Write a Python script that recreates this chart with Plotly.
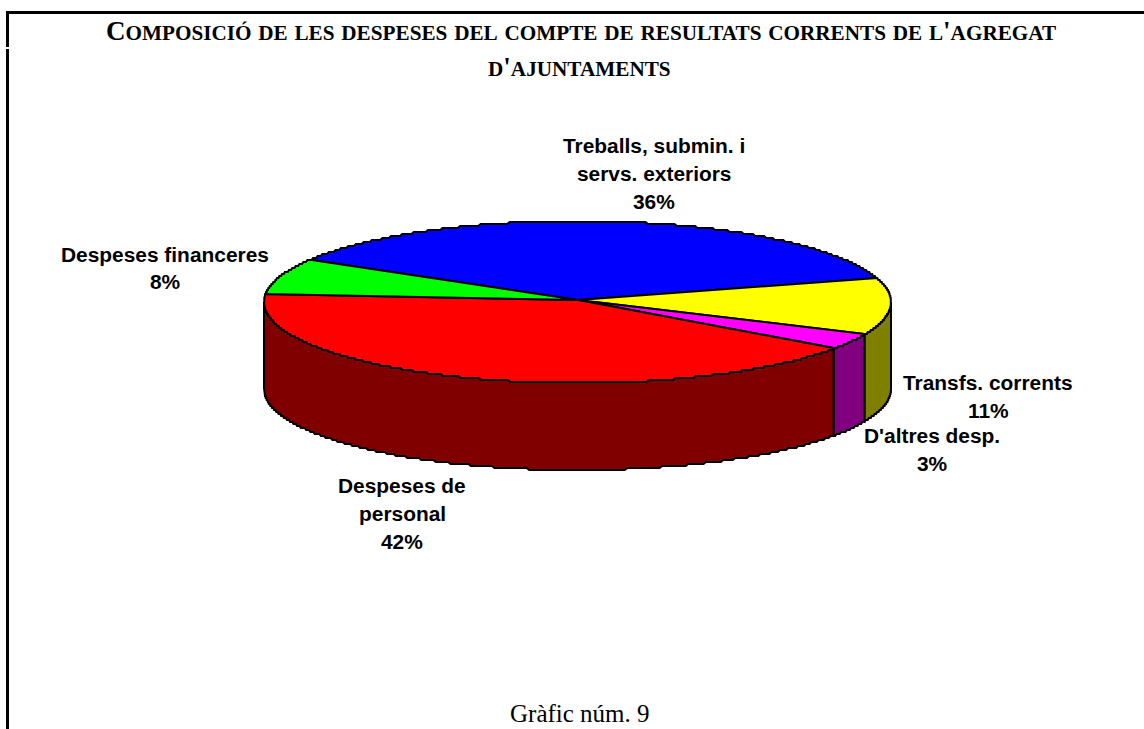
import math
import plotly.graph_objects as go

# ---- data ----
categories = ["Treballs, submin. i<br>servs. exteriors", "Transfs. corrents", "D'altres desp.",
              "Despeses de<br>personal", "Despeses financeres"]
values = [36.4, 11.3, 3.2, 41.6, 7.5]
top_colors = ["#0000ff", "#ffff00", "#ff00ff", "#ff0000", "#00ff00"]
side_colors = ["#000080", "#808000", "#800080", "#800000", "#008000"]
label_centers_x = [654, 988, 932, 402, 165]
label_first_y = [145.5, 382.5, 435.5, 485.5, 254]
title_lines = ["Composició de les despeses del compte de resultats corrents de l'agregat",
               "d'ajuntaments"]
caption = "Gràfic núm. 9"

# ---- pie projection (page pixels) ----
CX, CY, RX, RY = 577.5, 302.0, 313.5, 81.0
APEX = (578.0, 300.0)
DEPTH = 87.0
START_DEG = 148.0
W, H = 1144, 729


def rim(deg, drop=0.0):
    t = math.radians(deg)
    return CX + RX * math.cos(t), round((CY - RY * math.sin(t) + drop) / 2) * 2


def arc(a, b, drop=0.0):
    n = max(2, int(abs(a - b) * 2))
    return [rim(a + (b - a) * i / n, drop) for i in range(n + 1)]


fig = go.Figure()
angles = []
cur = START_DEG
for v in values:
    nxt = cur - v / sum(values) * 360
    angles.append((cur, nxt))
    cur = nxt

# side walls: only the front half of the cylinder is seen
for (a, b), col in zip(angles, side_colors):
    hi, lo = min(a, 0.0), max(b, -180.0)
    if hi <= lo:
        continue
    pts = arc(hi, lo) + arc(lo, hi, DEPTH)
    pts.append(pts[0])
    fig.add_trace(go.Scatter(x=[p[0] for p in pts], y=[p[1] for p in pts], mode="lines",
                             fill="toself", fillcolor=col, line=dict(color="black", width=2),
                             hoverinfo="skip", showlegend=False))

# top wedges
for (a, b), col, name in zip(angles, top_colors, categories):
    pts = [APEX] + arc(a, b) + [APEX]
    fig.add_trace(go.Scatter(x=[p[0] for p in pts], y=[p[1] for p in pts], mode="lines",
                             fill="toself", fillcolor=col, line=dict(color="black", width=2),
                             name=name.replace("<br>", " "), hoverinfo="name", showlegend=False))

annotations = []


def note(x, y, text, size, family, bold=False):
    annotations.append(dict(x=x, y=y, xref="x", yref="y", text=f"<b>{text}</b>" if bold else text,
                            showarrow=False, xanchor="center", yanchor="middle",
                            font=dict(size=size, family=family, color="black")))


SERIF = "Liberation Serif"
SANS = "Liberation Sans"
LINE = 27.8
for name, v, x, y in zip(categories, values, label_centers_x, label_first_y):
    lines = name.split("<br>") + [f"{round(v)}%"]
    for i, ln in enumerate(lines):
        note(x, y + i * LINE, ln, 20.9, SANS, bold=True)


def small_caps(s, big=27, small=21.2):
    out = []
    for ch in s:
        if ch.islower():
            out.append(f'<span style="font-size:{small}px">{ch.upper()}</span>')
        else:
            out.append(f'<span style="font-size:{big}px">{ch}</span>')
    return "".join(out)


note(581, 31, small_caps(title_lines[0]), 21.2, SERIF, bold=True)
note(579, 67, small_caps(title_lines[1]), 21.2, SERIF, bold=True)
note(580, 713, caption, 25, SERIF)

black = dict(color="black", width=0)
shapes = [
    dict(type="rect", xref="x", yref="y", x0=6, x1=W, y0=11, y1=14, fillcolor="black", line=black),
    dict(type="rect", xref="x", yref="y", x0=6, x1=9, y0=11, y1=47, fillcolor="black", line=black),
    dict(type="rect", xref="x", yref="y", x0=6, x1=9, y0=49, y1=H, fillcolor="black", line=black),
]

fig.update_layout(
    width=W, height=H, margin=dict(l=0, r=0, t=0, b=0),
    paper_bgcolor="white", plot_bgcolor="white", showlegend=False,
    xaxis=dict(range=[0, W], visible=False, fixedrange=True),
    yaxis=dict(range=[H, 0], visible=False, fixedrange=True),
    annotations=annotations, shapes=shapes,
)
fig.write_html("out.html", config={"displayModeBar": False},
               post_script="document.body.style.margin='0';document.body.style.overflow='hidden';")
